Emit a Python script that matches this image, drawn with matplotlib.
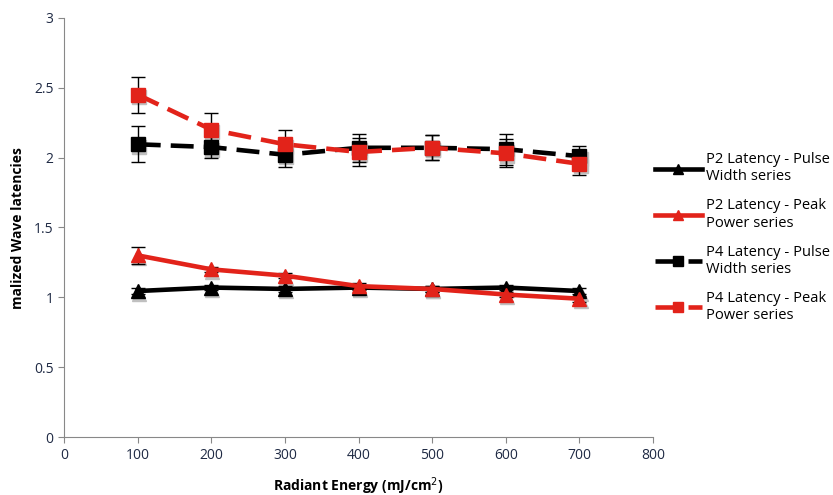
import matplotlib.pyplot as plt

plt.rcParams['font.family'] = ['Open Sans', 'DejaVu Sans']

energy = [100, 200, 300, 400, 500, 600, 700]

p2_pulse = [1.045, 1.07, 1.06, 1.07, 1.06, 1.07, 1.045]
p2_pulse_err = [0.02, 0.02, 0.02, 0.02, 0.02, 0.02, 0.02]
p2_peak = [1.30, 1.20, 1.155, 1.08, 1.06, 1.02, 0.99]
p2_peak_err = [0.06, 0.02, 0.02, 0.02, 0.02, 0.02, 0.02]
p4_pulse = [2.095, 2.075, 2.02, 2.07, 2.07, 2.06, 2.01]
p4_pulse_err = [0.13, 0.08, 0.09, 0.10, 0.09, 0.11, 0.07]
p4_peak = [2.45, 2.20, 2.095, 2.04, 2.07, 2.03, 1.955]
p4_peak_err = [0.13, 0.12, 0.10, 0.10, 0.09, 0.10, 0.08]

labels = ['P2 Latency - Pulse\nWidth series', 'P2 Latency - Peak\nPower series',
          'P4 Latency - Pulse\nWidth series', 'P4 Latency - Peak\nPower series']

red = '#e2231a'
fig = plt.figure(figsize=(8.33, 4.95), dpi=100)
ax = fig.add_axes([0.077, 0.117, 0.707, 0.847])

series = [
    (p2_pulse, p2_pulse_err, 'black', '^', '-'),
    (p2_peak, p2_peak_err, red, '^', '-'),
    (p4_pulse, p4_pulse_err, 'black', 's', (0, (5, 2.2))),
    (p4_peak, p4_peak_err, red, 's', (0, (5, 2.2))),
]
handles = []
for (vals, err, col, mk, ls), lab in zip(series, labels):
    # grey shadow under markers
    ax.plot([e + 1.5 for e in energy], [v - 0.018 for v in vals], linestyle='none',
            marker=mk, markersize=10, color='#c0c0c0', zorder=2)
    ax.errorbar(energy, vals, yerr=err, fmt='none', ecolor='black', elinewidth=1,
                capsize=5, capthick=1, zorder=3)
    h, = ax.plot(energy, vals, color=col, linestyle=ls, linewidth=3.3, marker=mk,
                 markersize=10, markeredgecolor=col, zorder=4, label=lab)
    handles.append(h)

ax.set_xlim(0, 800)
ax.set_ylim(0, 3)
ax.set_xticks(range(0, 801, 100))
ax.set_yticks([0, 0.5, 1, 1.5, 2, 2.5, 3])
ax.set_yticklabels(['0', '0.5', '1', '1.5', '2', '2.5', '3'])
for s in ['top', 'right']:
    ax.spines[s].set_visible(False)
for s in ['left', 'bottom']:
    ax.spines[s].set_color('#888888')
ax.tick_params(colors='#888888', labelcolor='#1f2a44', labelsize=10, length=4)

ax.set_xlabel('Radiant Energy (mJ/cm$^2$)', fontsize=10, fontweight='bold', labelpad=9)
fig.text(0.022, 0.54, 'malized Wave latencies', rotation=90, fontsize=10,
         fontweight='bold', ha='center', va='center')

fig.legend(handles=handles, loc='center left', bbox_to_anchor=(0.77, 0.52),
           frameon=False, fontsize=10.6, handlelength=3.2, labelspacing=0.95,
           handletextpad=0.3, markerscale=0.7)

fig.savefig('out.png')
